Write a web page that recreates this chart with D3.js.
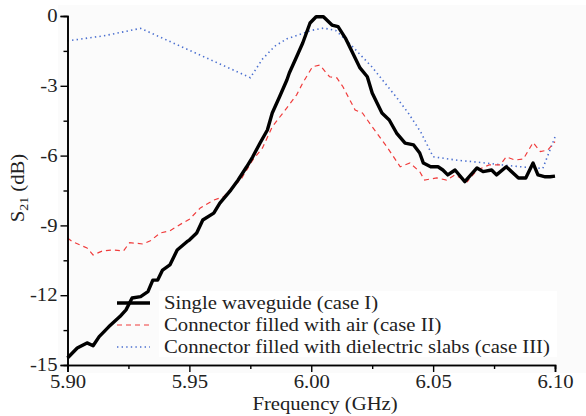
<!DOCTYPE html>
<html><head><meta charset="utf-8">
<script src="https://cdn.jsdelivr.net/npm/d3@7"></script>
<style>body{margin:0;background:#fff}svg{display:block}text{font-family:"Liberation Serif","Times New Roman",serif;fill:#222}</style>
</head><body><svg id="c" width="586" height="416"></svg>
<script>
const xTicks = [5.90, 5.95, 6.00, 6.05, 6.10];
const yTicks = [0, -3, -6, -9, -12, -15];
const seriesNames = ["Single waveguide (case I)", "Connector filled with air (case II)", "Connector filled with dielectric slabs (case III)"];

const case1F = [5.900,5.904,5.908,5.9105,5.913,5.917,5.9215,5.924,5.9265,5.930,5.933,5.935,5.937,5.939,5.942,5.945,5.949,5.950,5.953,5.9555,5.960,5.9625,5.967,5.970,5.9735,5.976,5.979,5.982,5.984,5.987,5.990,5.991,5.994,5.9965,5.9995,6.002,6.005,6.0085,6.011,6.014,6.017,6.020,6.023,6.025,6.029,6.032,6.035,6.0385,6.042,6.0445,6.046,6.049,6.052,6.054,6.056,6.059,6.063,6.068,6.0705,6.074,6.076,6.080,6.085,6.088,6.091,6.093,6.096,6.098,6.100];
const case1V = [-14.7,-14.27,-14.05,-14.17,-13.78,-13.35,-12.92,-12.63,-12.12,-12.06,-11.85,-11.35,-11.35,-10.92,-10.7,-10.06,-9.7,-9.63,-9.33,-8.77,-8.47,-8.04,-7.48,-7.05,-6.48,-6.05,-5.46,-4.9,-4.17,-3.47,-2.75,-2.45,-1.75,-1.16,-0.3,-0.03,-0.03,-0.39,-0.46,-0.95,-1.59,-2.23,-2.61,-3.31,-4.17,-4.47,-5.03,-5.46,-5.54,-5.89,-6.32,-6.48,-6.48,-6.62,-6.83,-6.62,-7.12,-6.53,-6.69,-6.62,-6.83,-6.48,-6.96,-6.96,-6.32,-6.83,-6.91,-6.91,-6.88];

const case2F = [5.900,5.902,5.908,5.9105,5.9145,5.9185,5.923,5.9255,5.931,5.934,5.938,5.942,5.9475,5.950,5.9545,5.960,5.964,5.968,5.971,5.976,5.980,5.984,5.990,5.994,5.9965,6.0005,6.0035,6.0075,6.0105,6.013,6.018,6.021,6.025,6.031,6.0365,6.0405,6.0445,6.0465,6.0515,6.0555,6.059,6.064,6.068,6.073,6.0775,6.080,6.0835,6.087,6.091,6.094,6.097,6.100];
const case2V = [-9.54,-9.7,-9.97,-10.27,-10.09,-10.06,-10.09,-9.74,-9.8,-9.66,-9.33,-9.23,-8.88,-8.74,-8.25,-7.91,-7.77,-7.31,-7.05,-6.19,-5.67,-4.76,-3.95,-3.39,-2.88,-2.18,-2.11,-2.61,-2.66,-3.04,-4.04,-4.17,-4.76,-5.62,-6.48,-6.32,-6.69,-7.05,-6.96,-7.05,-6.83,-7.12,-6.62,-6.4,-6.4,-6.05,-6.19,-6.15,-5.44,-5.83,-5.76,-5.4];

const case3F = [5.900,5.915,5.930,5.975,5.980,5.985,5.990,5.995,6.000,6.005,6.010,6.015,6.020,6.025,6.030,6.035,6.040,6.045,6.050,6.060,6.070,6.080,6.090,6.095,6.100];
const case3V = [-1.07,-0.85,-0.53,-2.65,-1.85,-1.3,-0.98,-0.8,-0.62,-0.52,-0.62,-1.1,-1.65,-2.2,-2.85,-3.5,-4.2,-5.0,-6.05,-6.2,-6.3,-6.42,-6.52,-6.55,-5.2];

const SX = 1.15; // horizontal stretch of the reference's lettering
const svg = d3.select("#c");
const X0 = 67.5, X1 = 555, Y0 = 16, Y1 = 365;
const x = d3.scaleLinear().domain([5.90, 6.10]).range([X0, X1]);
const y = d3.scaleLinear().domain([0, -15]).range([Y0, Y1]);

svg.append("rect").attr("x", 58).attr("y", 5).attr("width", 528).attr("height", 368).attr("fill", "#fbfbfb");

const mk = (F, V) => F.map((f, i) => [f, V[i]]);
const line = d3.line().x(d => x(d[0])).y(d => y(d[1]));

const styles = [
  {stroke: "#000", w: 3.4, dash: null},
  {stroke: "#f03c3c", w: 1.2, dash: "5,4"},
  {stroke: "#4a6fd0", w: 1.6, dash: "1.4,3.2"}
];

// legend background (text part only)
svg.append("rect").attr("x", 159).attr("y", 291).attr("width", 398).attr("height", 66).attr("fill", "#fff");

svg.append("path").datum(mk(case3F, case3V)).attr("d", line).attr("fill", "none")
  .attr("stroke", styles[2].stroke).attr("stroke-width", styles[2].w).attr("stroke-dasharray", styles[2].dash);
svg.append("path").datum(mk(case2F, case2V)).attr("d", line).attr("fill", "none")
  .attr("stroke", styles[1].stroke).attr("stroke-width", styles[1].w).attr("stroke-dasharray", styles[1].dash);
svg.append("path").datum(mk(case1F, case1V)).attr("d", line).attr("fill", "none")
  .attr("stroke", styles[0].stroke).attr("stroke-width", styles[0].w).attr("stroke-linejoin", "round");

// axes
const yAx = svg.append("g").attr("transform", `translate(${X0},0)`)
  .call(d3.axisLeft(y).tickValues(yTicks).tickFormat(d3.format("d")).tickSize(7).tickPadding(3));
svg.append("g").attr("transform", `translate(${X0},0)`)
  .call(d3.axisLeft(y).tickValues(d3.range(-13.5, 0, 3)).tickFormat("").tickSize(4));
const xAx = svg.append("g").attr("transform", `translate(0,${Y1})`)
  .call(d3.axisBottom(x).tickValues(xTicks).tickFormat(d3.format(".2f")).tickSize(7).tickPadding(3));
svg.append("g").attr("transform", `translate(0,${Y1})`)
  .call(d3.axisBottom(x).tickValues([5.925, 5.975, 6.025, 6.075]).tickFormat("").tickSize(4));
svg.selectAll(".domain").attr("stroke", "#000").attr("stroke-width", 1.6);
svg.selectAll(".tick line").attr("stroke", "#000").attr("stroke-width", 1.4);
svg.selectAll(".tick text").attr("font-family", "Liberation Serif").attr("font-size", 18).attr("fill", "#222");
yAx.selectAll(".tick text").text(d => d === 0 ? "0" : "-" + Math.abs(d))
  .attr("x", 0).attr("transform", `translate(-10,0) scale(${SX},1)`);
xAx.selectAll(".tick text").attr("transform", `scale(${SX},1)`);

// axis titles
svg.append("text").attr("transform", `translate(325,410) scale(${SX},1)`).attr("text-anchor", "middle").attr("font-size", 18).text("Frequency (GHz)");
const yt = svg.append("text").attr("transform", `translate(24,188) rotate(-90) scale(${SX},1)`).attr("text-anchor", "middle").attr("font-size", 18);
yt.append("tspan").text("S");
yt.append("tspan").attr("font-size", 12).attr("dy", 4).text("21");
yt.append("tspan").attr("dy", -4).text(" (dB)");

// legend
const lg = svg.append("g");
const rowY = [303, 325, 347];
seriesNames.forEach((n, i) => {
  lg.append("line").attr("x1", 117).attr("x2", 150).attr("y1", rowY[i]).attr("y2", rowY[i])
    .attr("stroke", styles[i].stroke).attr("stroke-width", styles[i].w).attr("stroke-dasharray", styles[i].dash);
  lg.append("text").attr("transform", `translate(164,${rowY[i] + 6}) scale(${SX},1)`).attr("font-size", 18).text(n);
});
</script></body></html>
